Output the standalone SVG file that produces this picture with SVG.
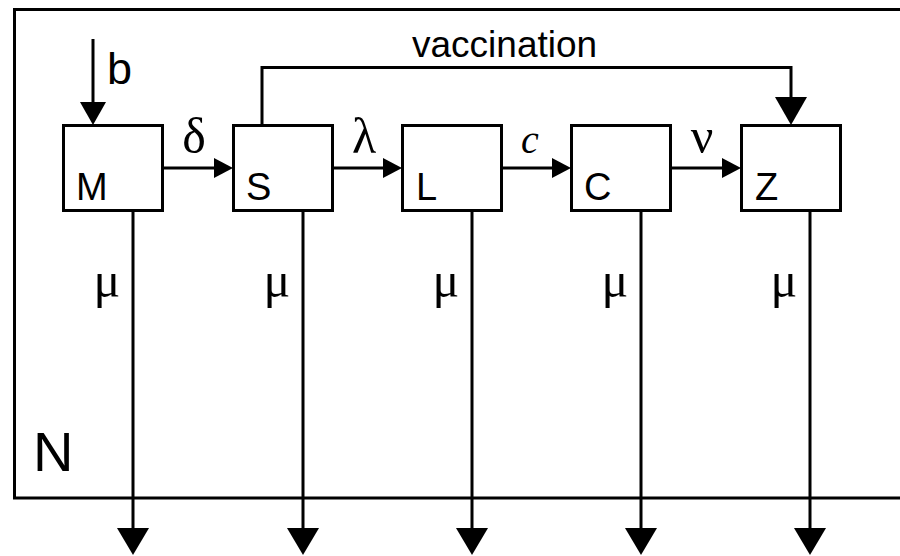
<svg xmlns="http://www.w3.org/2000/svg" width="900" height="556" viewBox="0 0 900 556">
<defs>
<style>
.box{fill:#fff;stroke:#000;stroke-width:3}
.ln{fill:none;stroke:#000;stroke-width:3}
.lbl{font-family:"Liberation Sans",Arial,sans-serif;font-size:38px;fill:#000}
.gr{font-family:"Liberation Serif","Times New Roman",serif;font-size:50px;fill:#000}
.ah{fill:#000}
</style>
</defs>
<rect width="900" height="556" fill="#fff"/>
<g id="population">
<path class="ln" d="M906 9.5 H14.5 V498 H906"/>
<text class="lbl" x="33" y="471" style="font-size:56px">N</text>
</g>
<g id="connectors">
<!-- birth -->
<line class="ln" x1="93" y1="39" x2="93" y2="105"/>
<polygon class="ah" points="80,102 106,102 93,125"/>
<text class="lbl" x="107" y="84" style="font-size:45px">b</text>
<!-- horizontal transitions -->
<line class="ln" x1="163" y1="168" x2="216" y2="168"/>
<polygon class="ah" points="214,158 233,168 214,178"/>
<text class="gr" x="194" y="153" text-anchor="middle">δ</text>
<line class="ln" x1="333" y1="168" x2="386" y2="168"/>
<polygon class="ah" points="383,158 402,168 383,178"/>
<text class="gr" x="364" y="153" text-anchor="middle">λ</text>
<line class="ln" x1="502" y1="168" x2="555" y2="168"/>
<polygon class="ah" points="552,158 571,168 552,178"/>
<text class="gr" x="530" y="153" text-anchor="middle" font-style="italic" style="font-size:40px">c</text>
<line class="ln" x1="671" y1="168" x2="725" y2="168"/>
<polygon class="ah" points="722,158 741,168 722,178"/>
<text class="gr" x="702" y="153" text-anchor="middle">ν</text>
<!-- vaccination -->
<path class="ln" d="M262 125 V67.5 H791 V100"/>
<polygon class="ah" points="775,97 807,97 791,125"/>
<text class="lbl" x="412" y="57" style="font-size:37px">vaccination</text>
<!-- deaths -->
<line class="ln" x1="133" y1="211" x2="133" y2="532"/>
<polygon class="ah" points="117,528 149,528 133,555"/>
<text class="gr" x="107" y="297" text-anchor="middle">μ</text>
<line class="ln" x1="303" y1="211" x2="303" y2="532"/>
<polygon class="ah" points="287,528 319,528 303,555"/>
<text class="gr" x="277" y="297" text-anchor="middle">μ</text>
<line class="ln" x1="472" y1="211" x2="472" y2="532"/>
<polygon class="ah" points="456,528 488,528 472,555"/>
<text class="gr" x="446" y="297" text-anchor="middle">μ</text>
<line class="ln" x1="641" y1="211" x2="641" y2="532"/>
<polygon class="ah" points="625,528 657,528 641,555"/>
<text class="gr" x="615" y="297" text-anchor="middle">μ</text>
<line class="ln" x1="810" y1="211" x2="810" y2="532"/>
<polygon class="ah" points="794,528 826,528 810,555"/>
<text class="gr" x="784" y="297" text-anchor="middle">μ</text>
</g>
<g id="node-M"><rect class="box" x="63.5" y="125.5" width="99" height="85"/><text class="lbl" x="76" y="200">M</text></g>
<g id="node-S"><rect class="box" x="233.5" y="125.5" width="99" height="85"/><text class="lbl" x="246" y="200">S</text></g>
<g id="node-L"><rect class="box" x="402.5" y="125.5" width="99" height="85"/><text class="lbl" x="416" y="200">L</text></g>
<g id="node-C"><rect class="box" x="571.5" y="125.5" width="99" height="85"/><text class="lbl" x="584" y="200">C</text></g>
<g id="node-Z"><rect class="box" x="741.5" y="125.5" width="99" height="85"/><text class="lbl" x="755" y="200">Z</text></g>
</svg>
